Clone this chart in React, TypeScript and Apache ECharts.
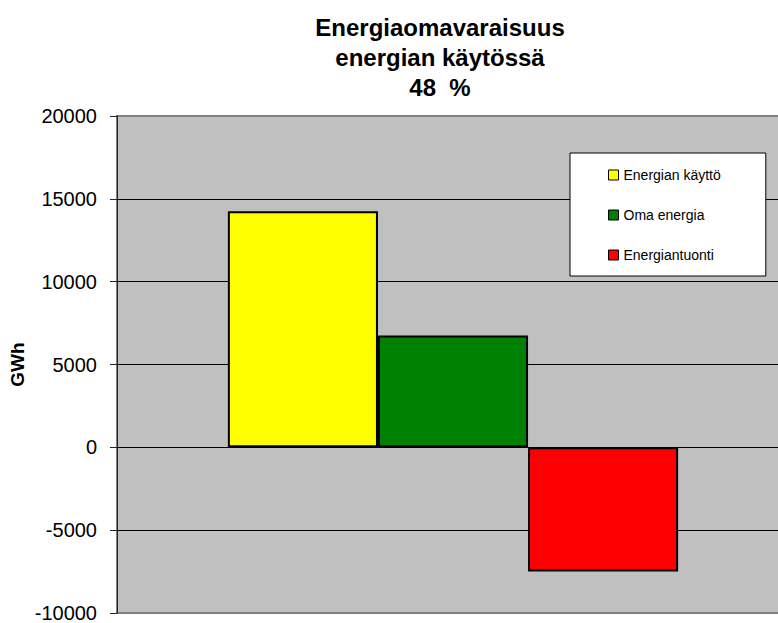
import React, { useEffect, useRef } from "react";
import * as echarts from "echarts";

const titleLines = ["Energiaomavaraisuus", "energian käytössä", "48  %"];
const seriesNames = ["Energian käyttö", "Oma energia", "Energiantuonti"];
const seriesValues = [14250, 6750, -7500];
const seriesColors = ["#ffff00", "#008000", "#ff0000"];
const yAxisName = "GWh";
const yMin = -10000;
const yMax = 20000;
const yInterval = 5000;

const FONT = "Arial, 'Liberation Sans', sans-serif";

export default function App() {
  const ref = useRef<HTMLDivElement>(null);
  useEffect(() => {
    if (!ref.current) return;
    const chart = echarts.init(ref.current, undefined, { renderer: "svg" });
    chart.setOption({
      animation: false,
      backgroundColor: "#ffffff",
      title: {
        text: titleLines.join("\n"),
        left: 440,
        top: 12,
        textAlign: "center",
        padding: 0,
        textStyle: {
          fontFamily: FONT,
          fontSize: 24,
          fontWeight: "bold",
          color: "#000",
          lineHeight: 30,
          align: "center",
        },
      },
      legend: {
        orient: "vertical",
        left: 570,
        top: 153,
        padding: [15, 45, 14, 38],
        itemGap: 26,
        itemWidth: 10,
        itemHeight: 10,
        icon: "rect",
        backgroundColor: "#ffffff",
        borderColor: "#000000",
        borderWidth: 1,
        borderRadius: 0,
        textStyle: { fontFamily: FONT, fontSize: 14, color: "#000" },
        itemStyle: { borderColor: "#000", borderWidth: 1 },
        data: seriesNames,
      },
      grid: {
        left: 116,
        top: 116,
        right: 0,
        bottom: 10,
        show: true,
        backgroundColor: "#c0c0c0",
        borderColor: "#808080",
        borderWidth: 2,
      },
      xAxis: {
        type: "category",
        data: [""],
        axisLine: { show: false },
        axisTick: { show: false },
        axisLabel: { show: false },
        splitLine: { show: false },
      },
      yAxis: {
        type: "value",
        min: yMin,
        max: yMax,
        interval: yInterval,
        name: yAxisName,
        nameLocation: "middle",
        nameGap: 90,
        nameMoveOverlap: false,
        nameRotate: 90,
        nameTextStyle: { fontFamily: FONT, fontSize: 19, fontWeight: "bold", color: "#000" },
        axisLine: { show: true, lineStyle: { color: "#222", width: 1 } },
        axisTick: { show: true, inside: false, length: 7, lineStyle: { color: "#222" } },
        axisLabel: {
          fontFamily: FONT,
          fontSize: 20,
          color: "#000",
          margin: 20,
          formatter: (v: number) => String(v),
        },
        splitLine: {
          show: true,
          showMinLine: false,
          showMaxLine: false,
          lineStyle: { color: "#000", width: 1, type: "solid" },
        },
      },
      series: seriesNames.map((name, i) => ({
        name,
        type: "bar",
        data: [seriesValues[i]],
        barGap: "0%",
        barCategoryGap: "33%",
        itemStyle: { color: seriesColors[i], borderColor: "#000", borderWidth: 2 },
      })),
    });
    return () => chart.dispose();
  }, []);
  return (
    <div style={{ position: "fixed", left: 0, top: 0, width: 778, height: 623, overflow: "hidden" }}>
      <div ref={ref} style={{ width: 789, height: 623 }} />
    </div>
  );
}
